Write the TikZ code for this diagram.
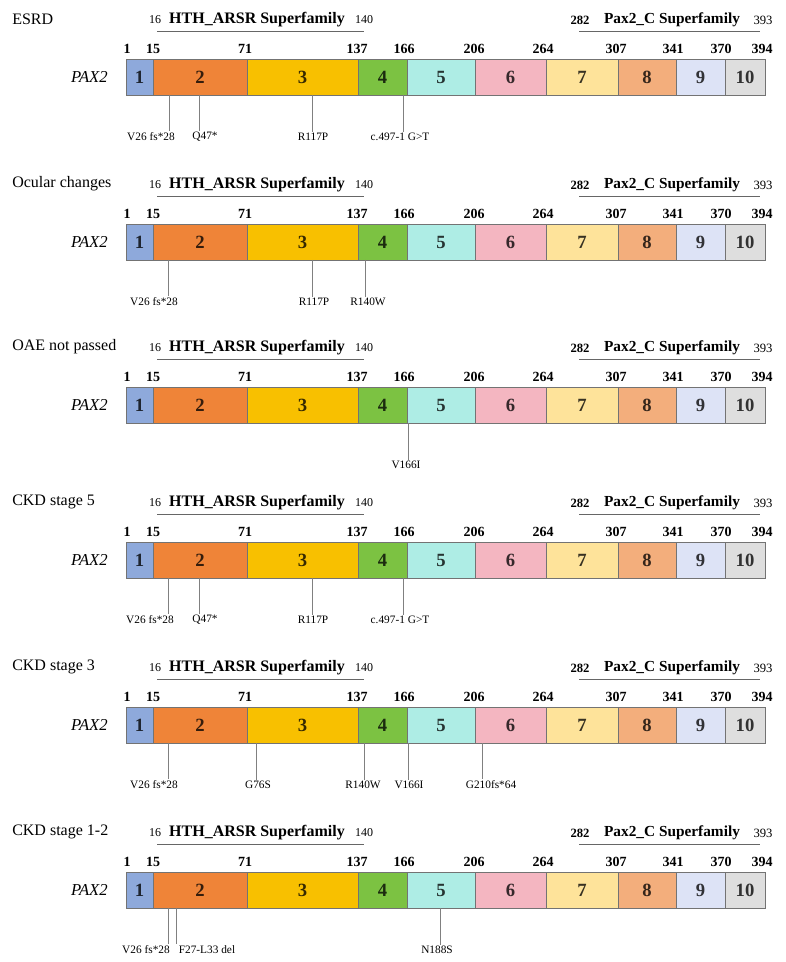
\documentclass[tikz,border=0pt]{standalone}
\usepackage{fontspec}
\setmainfont{LiberationSerif}[Extension=.ttf, UprightFont=*-Regular, BoldFont=*-Bold, ItalicFont=*-Italic, BoldItalicFont=*-BoldItalic]
\usepackage{tikz}
\usetikzlibrary{positioning,calc}
\definecolor{exA}{HTML}{8EA9DB}
\definecolor{exB}{HTML}{EF8438}
\definecolor{exC}{HTML}{F8C000}
\definecolor{exD}{HTML}{7CC242}
\definecolor{exE}{HTML}{AEEDE5}
\definecolor{exF}{HTML}{F4B6C1}
\definecolor{exG}{HTML}{FEE39A}
\definecolor{exH}{HTML}{F3AE7C}
\definecolor{exI}{HTML}{DDE3F6}
\definecolor{exJ}{HTML}{DEDEDE}
\tikzset{
paneltitle/.style = {anchor=west, inner sep=0pt, font=\fontsize{12}{14}\selectfont},
genename/.style = {anchor=east, inner sep=0pt, font=\fontsize{12.5}{14}\selectfont\itshape},
exon/.style = {draw=black!55, line width=0.6pt, rectangle, inner sep=0pt, minimum height=27pt, font=\fontsize{14}{16}\selectfont\bfseries},
posnum/.style = {inner sep=0pt, font=\fontsize{10.5}{12}\selectfont\bfseries},
famname/.style = {inner sep=0pt, font=\fontsize{12}{14}\selectfont\bfseries},
famnum/.style = {inner sep=0pt, font=\fontsize{9}{11}\selectfont},
famline/.style = {draw=black!60, line width=0.6pt},
mutlabel/.style = {inner sep=1pt, font=\fontsize{8.5}{10}\selectfont},
mutline/.style = {draw=black!50, line width=0.6pt},
}
% one PAX2 bar with domains; #1 prefix, #2 top of bar, #3 title
\newcommand{\genepanel}[3]{%
  \node[paneltitle] (#1t) at (12,#2-40) {#3};
  \node[genename] (#1g) at (108,#2+18) {PAX2};
  \foreach \a/\b/\c/\n in {126/153/exA/1,153/247/exB/2,247/358/exC/3,358/407/exD/4,407/475/exE/5,
      475/546/exF/6,546/618/exG/7,618/676/exH/8,676/725/exI/9,725/765/exJ/10}{
    \pgfmathsetmacro\w{(\b-\a)*0.75}
    \node[exon, fill=\c, text=\c!22!black, minimum width=\w pt] (#1e\n) at ({(\a+\b)/2},#2+18) {\n};
  }
  \foreach \x/\n in {127/1,153/15,245/71,357/137,404/166,474/206,543/264,616/307,673/341,721/370,762/394}
    \node[posnum] (#1n\n) at (\x,#2-10) {\n};
  % superfamilies
  \node[famnum] (#1hs) at (155,#2-39) {16};
  \node[famname] (#1hn) at (257,#2-39) {HTH\_ARSR Superfamily};
  \node[famnum] (#1he) at (364,#2-39) {140};
  \draw[famline] (157,#2-28) -- (364,#2-28);
  \node[famnum, font=\fontsize{9.5}{11}\selectfont\bfseries] (#1cs) at (580,#2-39) {282};
  \node[famname, font=\fontsize{11.5}{14}\selectfont\bfseries] (#1cn) at (672,#2-39) {Pax2\_C Superfamily};
  \node[famnum, font=\fontsize{9.5}{11}\selectfont] (#1ce) at (763,#2-39) {393};
  \draw[famline] (579,#2-28) -- (760,#2-28);
}
% #1 prefix, #2 id, #3 x of line, #4 x of label, #5 top of bar, #6 text
\newcommand{\mutat}[6]{%
  \coordinate (#1#2) at (#3,#5+36);
  \node[mutlabel] (#1#2l) at (#4,#5+78) {#6};
  \draw[mutline] (#1#2) -- (#1#2 |- #1#2l.north);
}
\begin{document}
\begin{tikzpicture}[x=0.75pt,y=-0.75pt]
        \fill[white] (0,0) rectangle (785,962);
        \useasboundingbox (0,0) rectangle (785,962);

        %ESRD
        \genepanel{p1}{59}{ESRD}
        \mutat{p1}{a}{169}{151}{59}{V26 fs*28}
        \mutat{p1}{b}{199}{205}{59}{Q47*}
        \mutat{p1}{c}{312}{313}{59}{R117P}
        \mutat{p1}{d}{403}{400}{59}{c.497-1 G>T}

        %ocular
        \genepanel{p2}{224}{Ocular changes}
        \mutat{p2}{a}{168}{154}{224}{V26 fs*28}
        \mutat{p2}{c}{312}{314}{224}{R117P}
        \mutat{p2}{e}{365}{368}{224}{R140W}

        %OAE
        \genepanel{p3}{387}{OAE not passed}
        \mutat{p3}{f}{408}{406}{387}{V166I}

        %CKD 5
        \genepanel{p4}{542}{CKD stage 5}
        \mutat{p4}{a}{168}{150}{542}{V26 fs*28}
        \mutat{p4}{b}{199}{205}{542}{Q47*}
        \mutat{p4}{c}{312}{313}{542}{R117P}
        \mutat{p4}{d}{403}{400}{542}{c.497-1 G>T}

        %CKD 3
        \genepanel{p5}{707}{CKD stage 3}
        \mutat{p5}{a}{168}{154}{707}{V26 fs*28}
        \mutat{p5}{g}{256}{258}{707}{G76S}
        \mutat{p5}{e}{364}{363}{707}{R140W}
        \mutat{p5}{f}{408}{409}{707}{V166I}
        \mutat{p5}{h}{482}{491}{707}{G210fs*64}

        %CKD 1-2
        \genepanel{p6}{872}{CKD stage 1-2}
        \mutat{p6}{a}{168}{146}{872}{V26 fs*28}
        \mutat{p6}{i}{176}{207}{872}{F27-L33 del}
        \mutat{p6}{j}{440}{437}{872}{N188S}
\end{tikzpicture}
\end{document}
